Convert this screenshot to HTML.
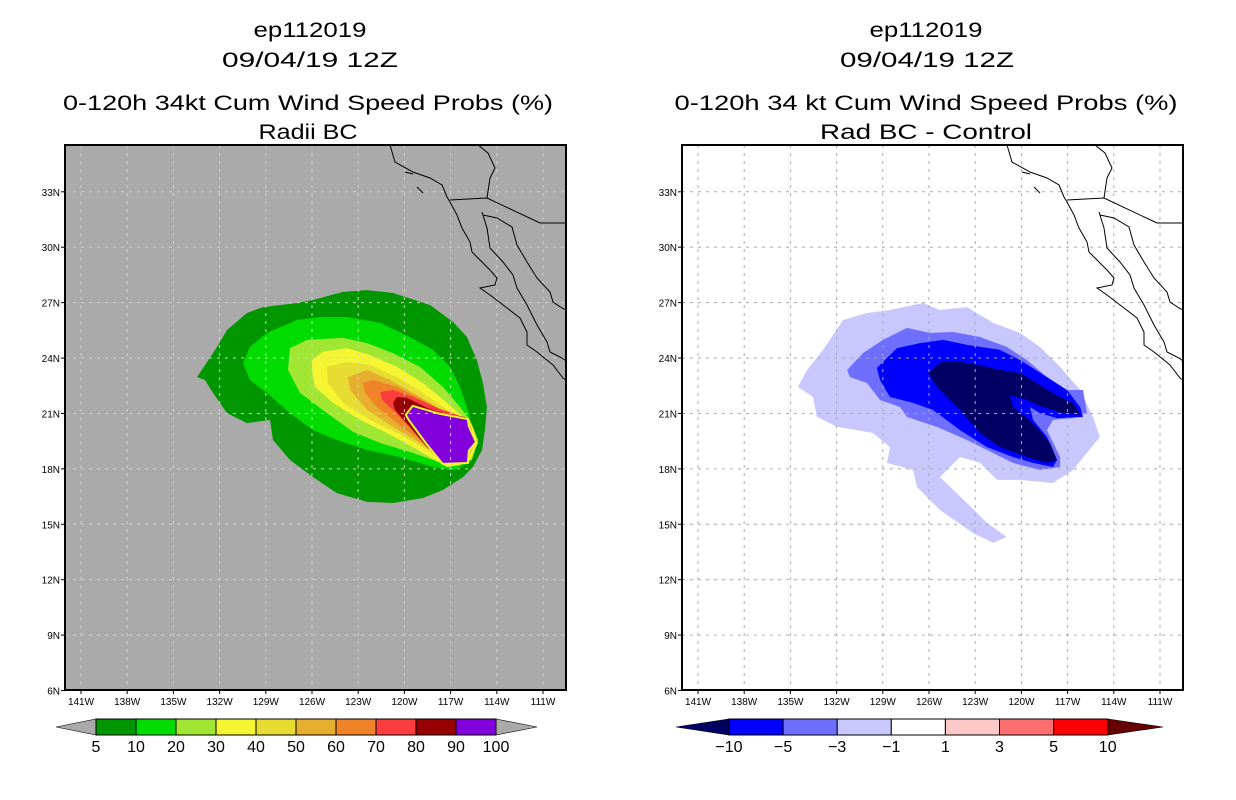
<!DOCTYPE html>
<html><head><meta charset="utf-8"><style>
html,body{margin:0;padding:0;background:#fff;}
svg{display:block;font-family:"Liberation Sans",sans-serif;}
</style></head><body>
<svg id="fig" width="1236" height="800" viewBox="0 0 1236 800" xmlns="http://www.w3.org/2000/svg">
<g font-size="21" fill="#000" text-anchor="middle">
<text x="310" y="37" textLength="113" lengthAdjust="spacingAndGlyphs">ep112019</text>
<text x="310" y="67" textLength="176" lengthAdjust="spacingAndGlyphs">09/04/19 12Z</text>
<text x="308" y="110" textLength="490" lengthAdjust="spacingAndGlyphs">0-120h 34kt Cum Wind Speed Probs (%)</text>
<text x="308" y="139" textLength="99" lengthAdjust="spacingAndGlyphs">Radii BC</text>
</g>
<g font-size="21" fill="#000" text-anchor="middle">
<text x="926" y="37" textLength="113" lengthAdjust="spacingAndGlyphs">ep112019</text>
<text x="927" y="67" textLength="174" lengthAdjust="spacingAndGlyphs">09/04/19 12Z</text>
<text x="926" y="110" textLength="503" lengthAdjust="spacingAndGlyphs">0-120h 34 kt Cum Wind Speed Probs (%)</text>
<text x="926" y="139" textLength="212" lengthAdjust="spacingAndGlyphs">Rad BC - Control</text>
</g>
<g id="panels"></g>
</svg>
<script>
// ---- data ----
const lonTicks = [-141,-138,-135,-132,-129,-126,-123,-120,-117,-114,-111];
const lonTickLabels = ["141W","138W","135W","132W","129W","126W","123W","120W","117W","114W","111W"];
const latTicks = [6,9,12,15,18,21,24,27,30,33];
const latTickLabels = ["6N","9N","12N","15N","18N","21N","24N","27N","30N","33N"];

const probLevels = [5,10,20,30,40,50,60,70,80,90,100];
const probColors = ["#009600","#00dc00","#a0e632","#f5f532","#e6dc32","#e6af2d","#f08228","#fa3c3c","#960000","#8200dc"];
const diffLevels = [-10,-5,-3,-1,1,3,5,10];
const diffColors = ["#0000ff","#6e6eff","#c8c8ff","#ffffff","#ffc8c8","#ff6e6e","#ff0000"];

// contour polygons [lon,lat], probabilities (%)
const prob5 = [[-133.47,22.97],[-132.17,24.60],[-131.52,25.52],[-130.22,26.44],[-129.18,26.76],[-126.97,26.98],[-125.94,27.14],[-123.99,27.58],[-122.43,27.68],[-120.74,27.52],[-118.34,26.87],[-116.84,25.95],[-115.94,25.14],[-115.29,23.89],[-114.90,22.65],[-114.64,21.35],[-114.77,20.10],[-114.96,19.02],[-115.55,18.10],[-116.19,17.56],[-117.49,16.86],[-118.79,16.42],[-120.74,16.15],[-122.43,16.21],[-124.38,16.69],[-125.94,17.56],[-127.43,18.48],[-128.53,19.56],[-128.73,20.65],[-130.22,20.48],[-131.52,21.02],[-132.43,22.11],[-132.95,22.81]];
const prob10 = [[-130.48,23.73],[-130.03,24.60],[-128.92,25.36],[-126.97,26.06],[-125.48,26.22],[-123.73,26.22],[-121.58,25.90],[-119.64,25.14],[-118.14,24.44],[-117.04,23.52],[-116.39,22.43],[-115.94,21.35],[-115.74,20.65],[-115.29,19.56],[-115.74,18.32],[-116.84,17.94],[-118.14,18.10],[-120.29,18.64],[-122.43,19.02],[-124.38,19.56],[-125.94,20.10],[-127.43,21.02],[-128.92,22.11],[-130.03,22.81]];
const prob20 = [[-127.43,24.54],[-126.32,24.98],[-123.99,25.09],[-122.43,24.81],[-120.74,24.27],[-118.99,23.52],[-117.49,22.43],[-116.39,21.35],[-115.74,20.65],[-115.22,19.56],[-115.61,18.48],[-117.23,18.21],[-119.44,18.86],[-121.58,19.40],[-123.34,20.00],[-125.03,21.02],[-126.78,22.11],[-127.56,23.35]];
const prob30 = [[-126.0,23.89],[-125.29,24.33],[-123.73,24.54],[-122.23,24.16],[-120.48,23.52],[-118.79,22.65],[-117.23,21.57],[-116.19,20.81],[-115.61,20.37],[-115.22,19.40],[-115.74,18.48],[-116.39,18.21],[-117.23,18.10],[-119.44,19.18],[-121.13,19.94],[-122.88,20.65],[-124.64,21.57],[-125.81,22.43],[-126.0,23.35]];
const prob40 = [[-125.03,23.52],[-123.73,23.79],[-122.23,23.62],[-120.48,22.97],[-118.79,22.11],[-117.23,21.19],[-116.19,20.65],[-115.74,20.21],[-115.42,19.29],[-115.87,18.48],[-116.71,18.32],[-117.69,18.48],[-118.53,19.02],[-120.48,19.94],[-122.23,20.65],[-123.99,21.57],[-124.96,22.65]];
const prob50 = [[-123.66,22.97],[-122.43,23.35],[-120.94,22.81],[-118.99,21.89],[-117.23,21.02],[-116.19,20.65],[-115.61,20.10],[-115.55,19.18],[-116.06,18.48],[-116.84,18.37],[-117.69,18.64],[-118.99,19.40],[-120.74,20.27],[-122.43,21.19],[-123.53,22.27]];
const prob60 = [[-122.69,22.65],[-122.04,22.81],[-120.48,22.43],[-118.79,21.73],[-117.23,21.02],[-116.19,20.75],[-115.74,20.10],[-115.74,19.18],[-116.26,18.59],[-117.04,18.48],[-117.49,18.48],[-118.99,19.56],[-120.48,20.48],[-121.78,21.35],[-122.56,22.11]];
const prob70 = [[-121.58,22.16],[-120.74,22.27],[-119.44,21.89],[-117.88,21.30],[-116.58,20.92],[-115.94,20.75],[-115.61,20.10],[-115.74,19.18],[-116.26,18.59],[-117.23,18.37],[-118.14,19.02],[-119.44,20.10],[-120.74,21.19],[-121.45,21.73]];
const prob80 = [[-120.74,21.57],[-120.48,21.89],[-119.83,21.84],[-118.53,21.30],[-117.23,20.92],[-116.06,20.81],[-115.74,20.10],[-115.87,19.18],[-116.39,18.59],[-117.49,18.37],[-118.53,19.18],[-119.64,20.27],[-120.61,21.19]];
const prob90 = [[-119.83,20.92],[-119.44,21.35],[-117.69,20.92],[-115.94,20.65],[-115.87,20.27],[-115.42,19.46],[-115.87,19.02],[-115.94,18.37],[-117.49,18.32],[-118.53,19.40],[-119.64,20.65]];
const probContours = [prob5,prob10,prob20,prob30,prob40,prob50,prob60,prob70,prob80,prob90];

// contour polygons [lon,lat], differences (%)
const diffM1 = [[-134.51,22.43],[-133.92,23.35],[-132.88,24.44],[-131.58,26.06],[-130.03,26.44],[-128.53,26.60],[-126.39,26.98],[-125.29,26.60],[-123.53,26.76],[-121.84,25.90],[-120.09,25.36],[-118.79,24.60],[-117.49,23.52],[-116.19,22.27],[-115.35,20.81],[-114.90,19.73],[-116.65,17.94],[-117.95,17.23],[-120.09,17.40],[-121.58,17.40],[-122.69,18.32],[-123.99,18.64],[-125.29,17.56],[-123.53,16.15],[-122.23,15.07],[-120.94,14.31],[-121.84,13.99],[-123.14,14.53],[-125.29,15.77],[-126.78,17.02],[-127.04,17.94],[-128.73,18.32],[-128.53,19.18],[-129.64,19.94],[-130.68,20.10],[-131.97,20.27],[-133.27,20.81],[-133.53,21.89]];
const diffM3 = [[-131.32,23.35],[-130.29,24.27],[-128.99,24.98],[-127.43,25.63],[-125.94,25.36],[-124.44,25.41],[-122.69,25.14],[-120.94,24.60],[-119.64,23.89],[-118.34,22.97],[-117.30,22.27],[-116.0,22.27],[-115.74,21.02],[-116.65,20.75],[-117.95,20.65],[-118.34,20.10],[-117.49,18.64],[-117.49,18.10],[-118.79,17.94],[-120.55,18.32],[-121.84,18.86],[-123.53,19.56],[-125.48,20.27],[-127.43,20.81],[-127.88,21.35],[-129.18,21.73],[-130.03,22.65],[-131.13,22.97]];
const diffM5 = [[-129.38,23.46],[-128.08,24.54],[-126.58,24.81],[-125.09,24.98],[-123.53,24.71],[-121.39,24.44],[-120.09,23.89],[-118.34,22.97],[-117.04,22.27],[-116.19,21.35],[-116.0,20.81],[-117.69,20.75],[-118.79,21.02],[-119.44,21.35],[-119.25,20.65],[-118.34,19.73],[-117.69,18.48],[-117.95,18.10],[-119.25,18.32],[-120.55,18.64],[-122.23,19.18],[-123.99,20.10],[-125.74,21.19],[-127.04,21.57],[-128.53,21.89],[-129.18,22.81]];
const diffM10 = [[-126.06,23.19],[-125.48,23.62],[-125.09,23.79],[-123.99,23.79],[-122.69,23.62],[-121.39,23.35],[-120.09,23.19],[-118.60,22.43],[-117.49,21.89],[-116.65,21.57],[-116.19,20.92],[-117.30,21.02],[-118.60,21.35],[-119.64,21.73],[-120.74,21.99],[-120.55,21.35],[-119.25,20.48],[-118.14,19.40],[-117.69,18.48],[-118.34,18.32],[-119.64,18.64],[-121.39,19.18],[-122.69,19.94],[-123.99,21.19],[-125.48,22.43]];
const diffContours = [diffM1,diffM3,diffM5,diffM10];
const diffContourColors = ["#c8c8ff","#6e6eff","#0000ff","#000064"];

// ---- projection ----
const FRAME_W = 501, FRAME_H = 545, FRAME_T = 145;
function xScale(lon){ return 81 + (lon + 141) * 15.4; }
function yScale(lat){ return 690.5 - (lat - 6) * 18.47; }

const NS = "http://www.w3.org/2000/svg";
function mk(tag, attrs, parent){
  const e = document.createElementNS(NS, tag);
  for (const k in attrs) e.setAttribute(k, attrs[k]);
  parent.appendChild(e);
  return e;
}
function polyPts(poly, dx){ return poly.map(p => (xScale(p[0])+dx).toFixed(1)+","+yScale(p[1]).toFixed(1)).join(" "); }

// coastline path in panel-local pixels (frame origin)
const coastPaths = [
 "M325,0 L330,17 L348,27 L365,33 L377,40 L382,52 L385,57 L392,70 L397,83 L405,97 L407,107 L415,115 L425,125 L432,133 L430,140 L415,143 L425,150 L442,163 L455,173 L462,187 L462,200 L472,207 L488,220 L498,233 L501,235",
 "M417,67 L422,83 L425,103 L438,117 L448,130 L452,143 L462,160 L472,180 L482,197 L485,207 L497,213 L501,216",
 "M418,70 L432,73 L447,82 L452,100 L462,117 L472,133 L485,147 L488,157 L497,163 L501,165",
 "M385,55 L422,53 L475,78 L501,78",
 "M413,0 L423,8 L430,23 L425,33 L422,53",
 "M340,27 L348,29",
 "M352,42 L358,48"
];

const root = document.getElementById('panels');

function drawPanel(dx, bg, gridColor, which){
  const g = mk('g', {}, root);
  
  
  const fx = 65 + dx;
  const bgR = mk('rect', {x:fx, y:FRAME_T, width:FRAME_W, height:FRAME_H, fill:bg}, g);
  
  
  const clipId = 'clip-' + which;
  const cp = mk('clipPath', {id:clipId}, g);
  mk('rect', {x:fx, y:FRAME_T, width:FRAME_W, height:FRAME_H}, cp);
  const inner = mk('g', {'clip-path':'url(#'+clipId+')'}, g);

  if (which === 'left'){
    probContours.forEach((poly, i) => {
      if (i === 9){
        const b = mk('polygon', {points: polyPts(poly, dx), fill:'none', stroke:'#f5f532', 'stroke-width':4}, inner);
        
        
      }
      const p = mk('polygon', {points: polyPts(poly, dx), fill: probColors[i]}, inner);
      
      
    });
  } else {
    diffContours.forEach((poly, i) => {
      const p = mk('polygon', {points: polyPts(poly, dx), fill: diffContourColors[i]}, inner);
      
      
    });
  }
  // grid
  lonTicks.forEach(l => {
    const x = xScale(l) + dx;
    const ln = mk('line', {x1:x, x2:x, y1:FRAME_T, y2:FRAME_T+FRAME_H, stroke:gridColor, 'stroke-width':1, 'stroke-dasharray':'3,5'}, inner);
    
    
  });
  latTicks.forEach(l => {
    const y = yScale(l);
    const ln = mk('line', {x1:fx, x2:fx+FRAME_W, y1:y, y2:y, stroke:gridColor, 'stroke-width':1, 'stroke-dasharray':'3,5'}, inner);
    
    
  });
  // coast
  const cg = mk('g', {transform:'translate('+fx+','+FRAME_T+')', fill:'none', stroke:'#000', 'stroke-width':1}, inner);
  
  
  coastPaths.forEach(d => mk('path', {d:d}, cg));
  // frame
  const fr = mk('rect', {x:fx, y:FRAME_T, width:FRAME_W, height:FRAME_H, fill:'none', stroke:'#000', 'stroke-width':2}, g);
  
  
  // ticks + labels
  const ax = mk('g', {'font-size':10, fill:'#000'}, g);
  
  
  lonTicks.forEach((l, i) => {
    const x = xScale(l) + dx;
    mk('line', {x1:x, x2:x, y1:FRAME_T+FRAME_H, y2:FRAME_T+FRAME_H+4, stroke:'#000'}, ax);
    const t = mk('text', {x:x, y:705, 'text-anchor':'middle'}, ax);
    t.textContent = lonTickLabels[i];
  });
  const ay = mk('g', {'font-size':10, fill:'#000'}, g);
  
  
  latTicks.forEach((l, i) => {
    const y = yScale(l);
    mk('line', {x1:fx-4, x2:fx, y1:y, y2:y, stroke:'#000'}, ay);
    const t = mk('text', {x:fx-5, y:y+4, 'text-anchor':'end'}, ay);
    t.textContent = latTickLabels[i];
  });
}

drawPanel(0, '#aaaaaa', '#d2d2d2', 'left');
drawPanel(617, '#ffffff', '#aaaaaa', 'right');

// colorbars
function drawBar(x0, w, levels, colors, leftTri, rightTri, tipL, tipR, which){
  const g = mk('g', {}, root);
  
  
  const y0 = 719, y1 = 735, ym = 727;
  const n = colors.length;
  const xe = x0 + n * w;
  const tl = mk('polygon', {points: tipL+','+ym+' '+x0+','+y0+' '+x0+','+y1, fill:leftTri, stroke:'#000', 'stroke-width':0.6}, g);
  
  
  const tr = mk('polygon', {points: tipR+','+ym+' '+xe+','+y0+' '+xe+','+y1, fill:rightTri, stroke:'#000', 'stroke-width':0.6}, g);
  
  
  colors.forEach((c, i) => {
    const r = mk('rect', {x:x0+i*w, y:y0, width:w, height:y1-y0, fill:c, stroke:'#000', 'stroke-width':1}, g);
    
    
  });
  levels.forEach((lv, i) => {
    const t = mk('text', {x:x0+i*w, y:752, 'text-anchor':'middle', 'font-size':16, fill:'#000'}, g);
    
    
    t.textContent = lv < 0 ? '\u2212' + Math.abs(lv) : String(lv);
  });
}
drawBar(96, 40, probLevels, probColors, '#aaaaaa', '#aaaaaa', 56, 537, 'left');
drawBar(729, 54.1, diffLevels, diffColors, '#000064', '#640000', 676, 1163, 'right');
</script>
</body></html>
